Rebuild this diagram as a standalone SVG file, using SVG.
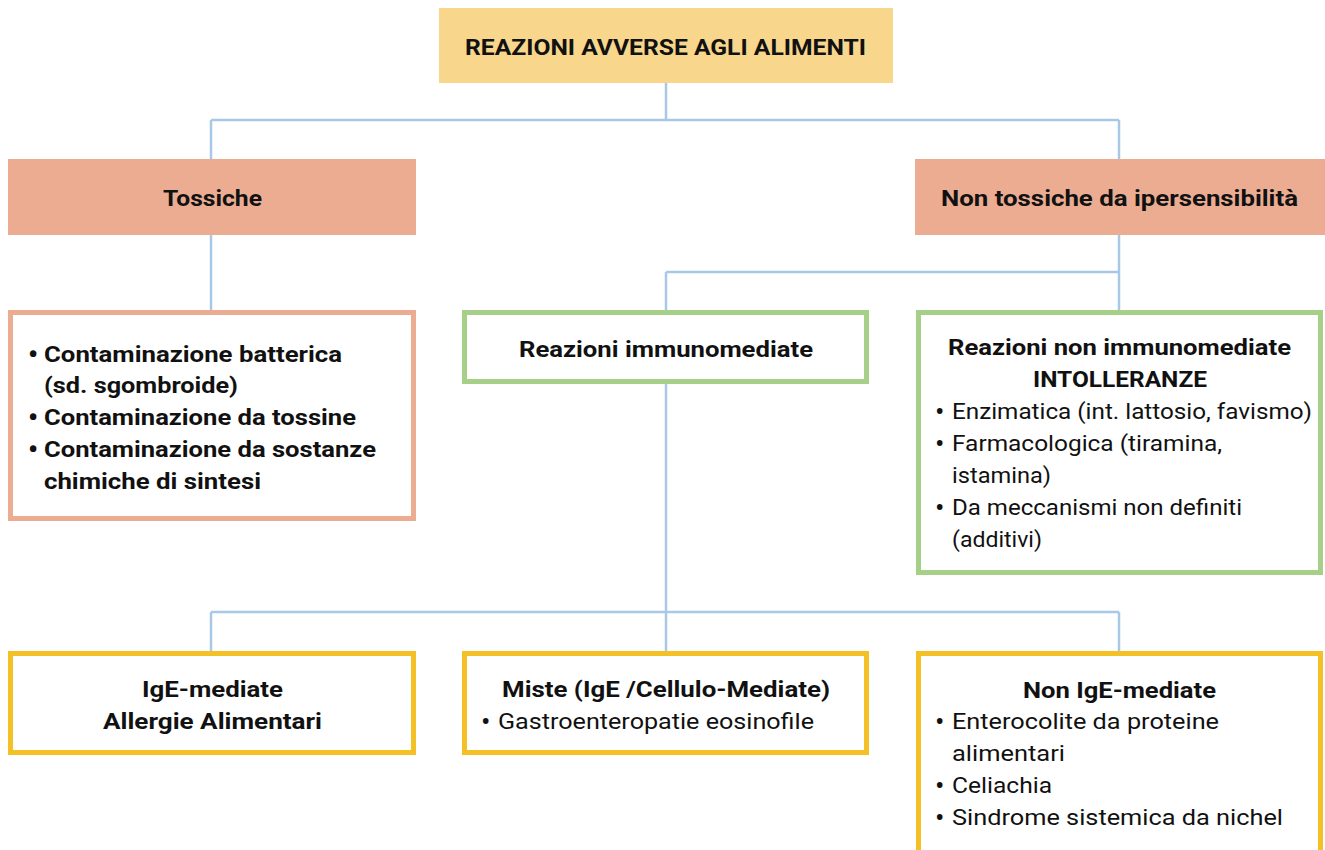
<svg xmlns="http://www.w3.org/2000/svg" width="1325" height="850" viewBox="0 0 1325 850">
<style>
.t{font-family:Roboto,"Liberation Sans",sans-serif;font-size:22.5px;fill:#111}
.b{font-weight:bold}
.u{font-family:Roboto,"Liberation Sans",sans-serif;font-size:28px;fill:#111}
.conn{fill:none;stroke:#A9C8E8;stroke-width:2.5}
.hdr{fill:#F8D68C}
.sal{fill:#ECAC92}
.bs{fill:#fff;stroke:#ECAC92;stroke-width:5}
.bg{fill:#fff;stroke:#A6CF88;stroke-width:5}
.by{fill:#fff;stroke:#F3C026;stroke-width:5}
</style>
<rect width="1325" height="850" fill="#fff"/>
<g id="connectors">
<path class="conn" d="M666 83V120M211 120H1119M211 120V159M1119 120V159"/>
<path class="conn" d="M211 235V310"/>
<path class="conn" d="M1119 235V310M666 272H1119M666 272V310"/>
<path class="conn" d="M666 384V612M211 612H1119M211 612V651M666 612V651M1119 612V651"/>
</g>
<g id="root">
<rect class="hdr" x="439" y="8" width="454" height="75"/>
<text class="t b" x="465" y="55" textLength="401" lengthAdjust="spacingAndGlyphs">REAZIONI AVVERSE AGLI ALIMENTI</text>
</g>
<g id="tossiche">
<rect class="sal" x="8" y="159" width="408" height="76"/>
<text class="t b" x="163" y="206" textLength="99" lengthAdjust="spacingAndGlyphs">Tossiche</text>
</g>
<g id="non-tossiche">
<rect class="sal" x="915" y="159" width="410" height="76"/>
<text class="t b" x="941" y="206" textLength="357" lengthAdjust="spacingAndGlyphs">Non tossiche da ipersensibilità</text>
</g>
<g id="contaminazioni">
<rect class="bs" x="10.5" y="312.5" width="403" height="206"/>
<text class="u b" x="28" y="364">•</text><text class="t b" x="44" y="362" textLength="298" lengthAdjust="spacingAndGlyphs">Contaminazione batterica</text>
<text class="t b" x="44" y="393" textLength="194" lengthAdjust="spacingAndGlyphs">(sd. sgombroide)</text>
<text class="u b" x="28" y="427">•</text><text class="t b" x="44" y="425" textLength="312" lengthAdjust="spacingAndGlyphs">Contaminazione da tossine</text>
<text class="u b" x="28" y="459">•</text><text class="t b" x="44" y="457" textLength="332" lengthAdjust="spacingAndGlyphs">Contaminazione da sostanze</text>
<text class="t b" x="44" y="489" textLength="217" lengthAdjust="spacingAndGlyphs">chimiche di sintesi</text>
</g>
<g id="immunomediate">
<rect class="bg" x="464.5" y="312.5" width="402" height="69"/>
<text class="t b" x="519" y="357" textLength="294" lengthAdjust="spacingAndGlyphs">Reazioni immunomediate</text>
</g>
<g id="non-immunomediate">
<rect class="bg" x="918.5" y="312.5" width="402" height="260"/>
<text class="t b" x="948" y="355" textLength="343" lengthAdjust="spacingAndGlyphs">Reazioni non immunomediate</text>
<text class="t b" x="1033" y="387" textLength="174" lengthAdjust="spacingAndGlyphs">INTOLLERANZE</text>
<text class="u" x="935" y="421">•</text><text class="t" x="952" y="419" textLength="360" lengthAdjust="spacingAndGlyphs">Enzimatica (int. lattosio, favismo)</text>
<text class="u" x="935" y="453">•</text><text class="t" x="952" y="451" textLength="270" lengthAdjust="spacingAndGlyphs">Farmacologica (tiramina,</text>
<text class="t" x="952" y="483" textLength="99" lengthAdjust="spacingAndGlyphs">istamina)</text>
<text class="u" x="935" y="517">•</text><text class="t" x="952" y="515" textLength="290" lengthAdjust="spacingAndGlyphs">Da meccanismi non definiti</text>
<text class="t" x="952" y="547" textLength="90" lengthAdjust="spacingAndGlyphs">(additivi)</text>
</g>
<g id="ige">
<rect class="by" x="10.5" y="653.5" width="403" height="99"/>
<text class="t b" x="142" y="697" textLength="141" lengthAdjust="spacingAndGlyphs">IgE-mediate</text>
<text class="t b" x="103" y="729" textLength="219" lengthAdjust="spacingAndGlyphs">Allergie Alimentari</text>
</g>
<g id="miste">
<rect class="by" x="464.5" y="653.5" width="402" height="99"/>
<text class="t b" x="502" y="697" textLength="328" lengthAdjust="spacingAndGlyphs">Miste (IgE /Cellulo-Mediate)</text>
<text class="u" x="481" y="731">•</text><text class="t" x="498" y="729" textLength="316" lengthAdjust="spacingAndGlyphs">Gastroenteropatie eosinofile</text>
</g>
<g id="non-ige">
<rect class="by" x="918.5" y="653.5" width="402" height="210"/>
<text class="t b" x="1023" y="698" textLength="193" lengthAdjust="spacingAndGlyphs">Non IgE-mediate</text>
<text class="u" x="935" y="731">•</text><text class="t" x="952" y="729" textLength="267" lengthAdjust="spacingAndGlyphs">Enterocolite da proteine</text>
<text class="t" x="952" y="761" textLength="113" lengthAdjust="spacingAndGlyphs">alimentari</text>
<text class="u" x="935" y="795">•</text><text class="t" x="952" y="793" textLength="100" lengthAdjust="spacingAndGlyphs">Celiachia</text>
<text class="u" x="935" y="827">•</text><text class="t" x="952" y="825" textLength="331" lengthAdjust="spacingAndGlyphs">Sindrome sistemica da nichel</text>
</g>
</svg>
